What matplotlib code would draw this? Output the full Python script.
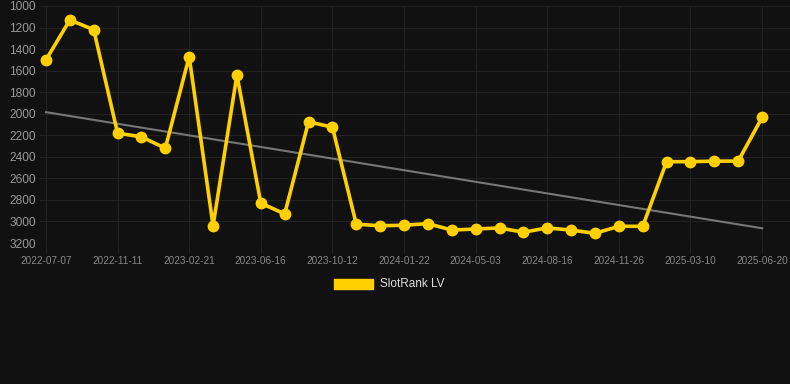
import matplotlib
matplotlib.use("Agg")
import matplotlib.pyplot as plt
import numpy as np

# Chart data

tick_labels = ["2022-07-07", "2022-11-11", "2023-02-21", "2023-06-16", "2023-10-12", "2024-01-22",
               "2024-05-03", "2024-08-16", "2024-11-26", "2025-03-10", "2025-06-20"]

rank = [1500, 1130, 1220, 2180, 2215, 2320, 1470, 3040, 1640, 2830, 2930,
        2075, 2125, 3025, 3040, 3035, 3020, 3080, 3070, 3060, 3100, 3060,
        3080, 3110, 3045, 3045, 2445, 2445, 2440, 2440, 2035]

series_name = "SlotRank LV"

BG = "#111111"
YELLOW = "#FFD000"

plt.rcParams["font.family"] = ["Liberation Sans", "DejaVu Sans"]

fig = plt.figure(figsize=(7.9, 3.84), dpi=100, facecolor=BG)
ax = fig.add_axes([40 / 790, 1 - 243 / 384, 750 / 790, 237 / 384], facecolor=BG)

x = np.arange(len(rank))

# trend line from a linear fit of the series
slope, icept = np.polyfit(x, rank, 1)
ax.plot(x, slope * x + icept, color="#777777", linewidth=1.5, zorder=2)

ax.plot(x, rank, color=YELLOW, linewidth=2.6, marker="o", markersize=7.5,
        clip_on=False, zorder=3)

ax.set_ylim(3200, 1000)
ax.set_yticks(range(1000, 3201, 200))
ax.set_xlim(-0.25, 31.17)
ax.set_xticks(x[::3])
ax.set_xticklabels(tick_labels)

ax.grid(True, color="#222222", linewidth=0.8)
ax.set_axisbelow(True)
for s in ax.spines.values():
    s.set_visible(False)

ax.tick_params(axis="y", length=0, pad=3, labelsize=8.6, labelcolor="#999999")
ax.tick_params(axis="x", length=7, width=0.8, color="#222222", pad=2,
               labelsize=7.2, labelcolor="#888888")

# legend below the chart
fig.patches.append(plt.Rectangle((334 / 790, 1 - 289 / 384), 39 / 790, 10 / 384,
                                 transform=fig.transFigure, color=YELLOW))
fig.text(380 / 790, 1 - 284 / 384, series_name, color="#dddddd", fontsize=8.5,
         va="center", ha="left")

fig.savefig("out.png", dpi=100, facecolor=BG)
